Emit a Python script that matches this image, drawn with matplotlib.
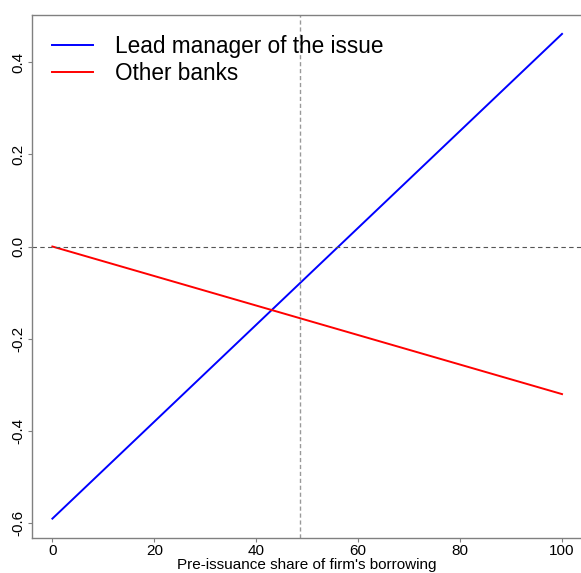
import matplotlib
matplotlib.use("Agg")
import matplotlib.pyplot as plt

# Data
share = [0, 100]
lead_manager = [-0.59, 0.461]
other_banks = [0.0, -0.32]
cutoff_share = 48.6

x_ticks = [0, 20, 40, 60, 80, 100]
y_ticks = [-0.6, -0.4, -0.2, 0.0, 0.2, 0.4]

plt.rcParams['font.family'] = ['Liberation Sans', 'DejaVu Sans']

fig = plt.figure(figsize=(5.81, 5.73), dpi=100)
ax = fig.add_axes([32 / 581, 1 - 538 / 573, (582.4 - 32) / 581, (538 - 15) / 573])

ax.plot(share, lead_manager, color='#0000ff', lw=1.4, label='Lead manager of the issue')
ax.plot(share, other_banks, color='#ff0000', lw=1.4, label='Other banks')
ax.axhline(0, color='#555555', lw=0.8, ls=(0, (4, 3)))
ax.axvline(cutoff_share, color='#999999', lw=1.0, ls=(0, (3, 2)))

ax.set_xlim(-4, 104)
ax.set_ylim(-0.632, 0.502)
ax.set_xticks(x_ticks)
ax.set_xticklabels([str(t) for t in x_ticks])
ax.set_yticks(y_ticks)
ax.set_yticklabels(['%.1f' % t for t in y_ticks], rotation=90, va='center')

for s in ax.spines.values():
    s.set_color('#808080')
    s.set_linewidth(1.0)
ax.tick_params(axis='both', direction='out', length=3, width=0.8, color='#808080',
               labelsize=11, labelcolor='black', pad=1.5)

ax.set_xlabel("Pre-issuance share of firm's borrowing", fontsize=11, labelpad=0)

ax.legend(loc='upper left', frameon=False, fontsize=16.3, handlelength=1.8,
          handletextpad=0.95, borderaxespad=0.5, labelspacing=0.15)

fig.savefig('out.png', dpi=100)
